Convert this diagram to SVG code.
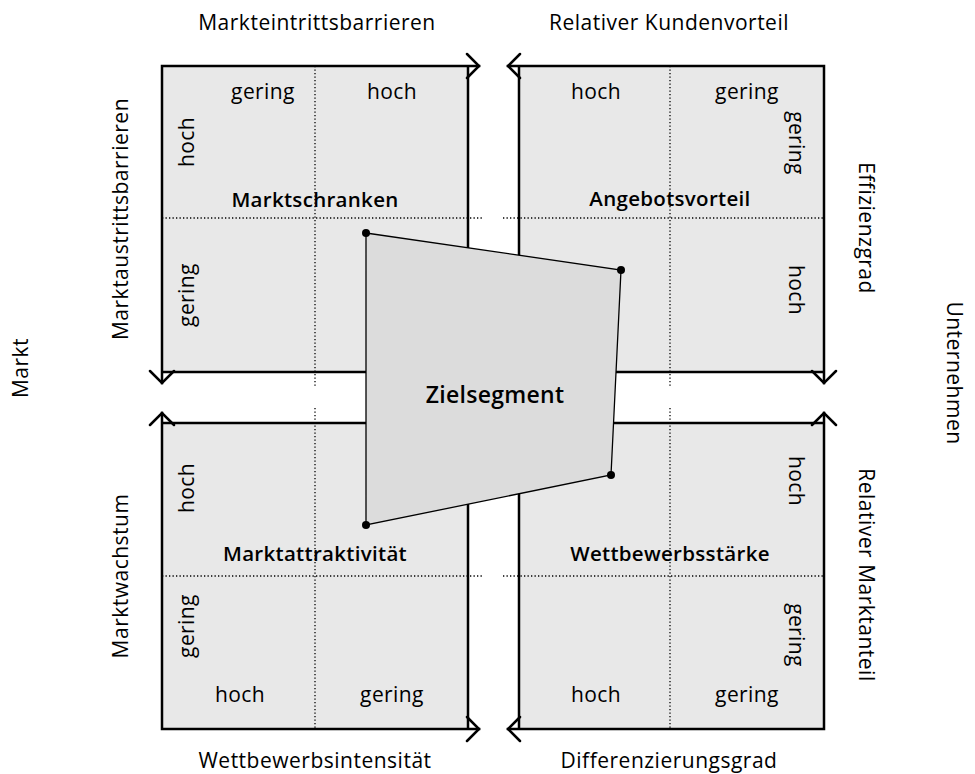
<svg xmlns="http://www.w3.org/2000/svg" width="975" height="774" viewBox="0 0 975 774">
<style>
text{font-family:"Open Sans","Noto Sans",sans-serif;fill:#000;text-anchor:middle;dominant-baseline:central}
.lbl{font-size:21px;letter-spacing:0.5px}
.in{font-size:21px;letter-spacing:0.4px}
.ttl{font-size:20.5px;font-weight:600;letter-spacing:0.3px}
.big{font-size:23px}
.box{fill:#e8e8e8;stroke:none}
.edge{stroke:#000;stroke-width:2.5;fill:none;stroke-linecap:square}
.arr{stroke:#000;stroke-width:2.5;fill:none;stroke-linecap:round;stroke-linejoin:miter}
.dot{stroke:#000;stroke-width:1.3;stroke-dasharray:1.3 2.2;fill:none}
</style>
<rect width="975" height="774" fill="#fff"/>

<g id="quadrant-tl">
<rect class="box" x="162" y="66" width="306" height="306"/>
<line class="dot" x1="162" y1="218" x2="483" y2="218"/>
<line class="dot" x1="315" y1="66" x2="315" y2="387"/>
<path class="edge" d="M479 66H162V383M468 66V372H162"/>
<path class="arr" d="M467 54L479 66L467 78M150 371L162 383L174 371"/>
<text class="in" x="263" y="91">gering</text>
<text class="in" x="392" y="91">hoch</text>
<text class="in" transform="translate(186,142) rotate(-90)">hoch</text>
<text class="in" transform="translate(186,295) rotate(-90)">gering</text>
<text class="ttl" x="315" y="199">Marktschranken</text>
</g>

<g id="quadrant-tr">
<rect class="box" x="519" y="66" width="305" height="306"/>
<line class="dot" x1="503" y1="218" x2="824" y2="218"/>
<line class="dot" x1="670" y1="66" x2="670" y2="387"/>
<path class="edge" d="M508 66H824V383M519 66V372H824"/>
<path class="arr" d="M520 54L508 66L520 78M812 371L824 383L836 371"/>
<text class="in" x="596" y="91">hoch</text>
<text class="in" x="747" y="91">gering</text>
<text class="in" transform="translate(797,143) rotate(90)">gering</text>
<text class="in" transform="translate(797,290) rotate(90)">hoch</text>
<text class="ttl" x="670" y="198">Angebotsvorteil</text>
</g>

<g id="quadrant-bl">
<rect class="box" x="162" y="423" width="306" height="306"/>
<line class="dot" x1="162" y1="576" x2="483" y2="576"/>
<line class="dot" x1="315" y1="408" x2="315" y2="729"/>
<path class="edge" d="M162 413V729H479M162 423H468V729"/>
<path class="arr" d="M150 425L162 413L174 425M467 717L479 729L467 741"/>
<text class="in" transform="translate(186,488) rotate(-90)">hoch</text>
<text class="in" transform="translate(186,626) rotate(-90)">gering</text>
<text class="ttl" x="315" y="553">Marktattraktivität</text>
<text class="in" x="240" y="694">hoch</text>
<text class="in" x="392" y="694">gering</text>
</g>

<g id="quadrant-br">
<rect class="box" x="519" y="423" width="305" height="306"/>
<line class="dot" x1="503" y1="576" x2="824" y2="576"/>
<line class="dot" x1="670" y1="408" x2="670" y2="729"/>
<path class="edge" d="M824 413V729H508M824 423H519V729"/>
<path class="arr" d="M812 425L824 413L836 425M520 717L508 729L520 741"/>
<text class="in" transform="translate(797,481) rotate(90)">hoch</text>
<text class="in" transform="translate(797,635) rotate(90)">gering</text>
<text class="ttl" x="670" y="553">Wettbewerbsstärke</text>
<text class="in" x="596" y="694">hoch</text>
<text class="in" x="747" y="694">gering</text>
</g>

<g id="zielsegment">
<polygon points="366,233 621,270 611,475 366,525" fill="#dcdcdc" stroke="#000" stroke-width="1.3"/>
<circle cx="366" cy="233" r="4"/>
<circle cx="621" cy="270" r="4"/>
<circle cx="611" cy="475" r="4"/>
<circle cx="366" cy="525" r="4"/>
<text class="ttl big" x="495" y="394">Zielsegment</text>
</g>

<g id="axis-labels">
<text class="lbl" x="317" y="22">Markteintrittsbarrieren</text>
<text class="lbl" x="669" y="22">Relativer Kundenvorteil</text>
<text class="lbl" x="315" y="760">Wettbewerbsintensität</text>
<text class="lbl" x="669" y="760">Differenzierungsgrad</text>
<text class="lbl" transform="translate(120,219) rotate(-90)">Marktaustrittsbarrieren</text>
<text class="lbl" transform="translate(120,576) rotate(-90)">Marktwachstum</text>
<text class="lbl" transform="translate(20,368) rotate(-90)">Markt</text>
<text class="lbl" transform="translate(867,228) rotate(90)">Effizienzgrad</text>
<text class="lbl" transform="translate(867,575) rotate(90)">Relativer Marktanteil</text>
<text class="lbl" transform="translate(955,373) rotate(90)">Unternehmen</text>
</g>
</svg>
